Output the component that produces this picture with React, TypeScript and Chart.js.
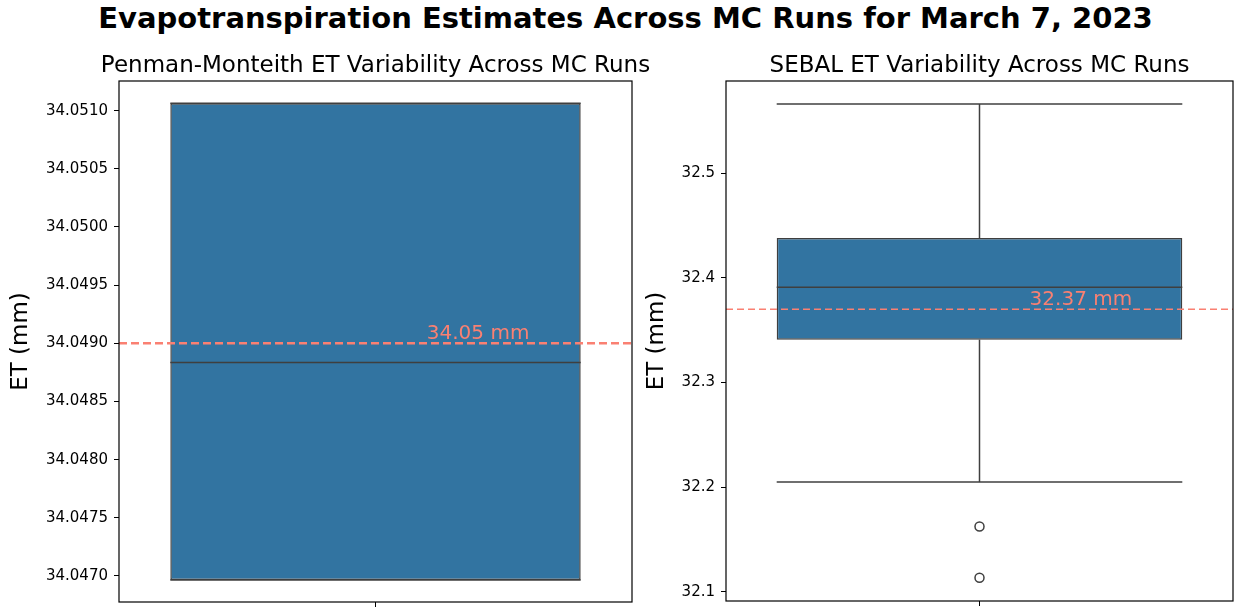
import React, { useEffect, useRef } from 'react';
import { Chart, registerables } from 'chart.js';

Chart.register(...registerables);

// ---------- data ----------
const SUPTITLE = 'Evapotranspiration Estimates Across MC Runs for March 7, 2023';
const Y_LABEL = 'ET (mm)';

const pmTitle = 'Penman-Monteith ET Variability Across MC Runs';
// [whisker low, Q1, median, Q3, whisker high]
const pmStats = [34.046966, 34.046966, 34.048834, 34.051064, 34.051064];
const pmMean = 34.049;
const pmOutliers: number[] = [];
const pmTicks = [34.047, 34.0475, 34.048, 34.0485, 34.049, 34.0495, 34.05, 34.0505, 34.051];
const pmRange = [34.046776, 34.051255];

const sebalTitle = 'SEBAL ET Variability Across MC Runs';
const sebalStats = [32.205, 32.341, 32.391, 32.438, 32.566];
const sebalMean = 32.37;
const sebalOutliers = [32.1625, 32.1136];
const sebalTicks = [32.1, 32.2, 32.3, 32.4, 32.5];
const sebalRange = [32.0914, 32.588];

// ---------- style ----------
const FONT = "'DejaVu Sans', sans-serif";
const BOX_FILL = '#3274a1';
const EDGE = '#3f3f3f';
const MEAN_COLOR = '#fa8072';
const HALF_W = 0.4;

type PanelProps = {
  title: string;
  stats: number[];
  mean: number;
  outliers: number[];
  ticks: number[];
  range: number[];
  decimals: number;
  left: number;
  width: number;
  yAxisWidth: number;
  padRight: number;
  yTitlePad: number;
  meanWidth: number;
  meanDash: number[];
};

function BoxPanel(p: PanelProps) {
  const ref = useRef<HTMLCanvasElement | null>(null);
  useEffect(() => {
    if (!ref.current) return;
    const [lo, q1, med, q3, hi] = p.stats;
    const lineDs = (data: { x: number; y: number }[], order: number) => ({
      type: 'line' as const,
      data,
      borderColor: EDGE,
      borderWidth: 1.5,
      pointRadius: 0,
      fill: false,
      tension: 0,
      order,
    });
    const annot = {
      id: 'annot',
      afterDatasetsDraw(chart: any) {
        const { ctx, scales } = chart;
        ctx.save();
        ctx.fillStyle = MEAN_COLOR;
        ctx.font = `20px ${FONT}`;
        ctx.textAlign = 'center';
        ctx.textBaseline = 'alphabetic';
        ctx.fillText(`${p.mean.toFixed(2)} mm`, scales.x.getPixelForValue(0.2), scales.y.getPixelForValue(p.mean) - 4);
        ctx.restore();
      },
      afterDraw(chart: any) {
        const { ctx, chartArea } = chart;
        const { left, right, top, bottom } = chartArea;
        ctx.save();
        ctx.strokeStyle = '#000';
        ctx.lineWidth = 1.2;
        ctx.strokeRect(left, top, right - left, bottom - top);
        ctx.fillStyle = '#000';
        ctx.font = `23px ${FONT}`;
        ctx.textAlign = 'center';
        ctx.textBaseline = 'alphabetic';
        ctx.fillText(p.title, (left + right) / 2, top - 9);
        ctx.restore();
      },
    };
    const chart = new Chart(ref.current, {
      type: 'bar',
      data: {
        datasets: [
          {
            type: 'bar',
            data: [{ x: 0, y: [q1, q3] }] as any,
            backgroundColor: BOX_FILL,
            borderColor: EDGE,
            borderWidth: 1.5,
            borderSkipped: false,
            barPercentage: 2 * HALF_W,
            categoryPercentage: 1,
            order: 10,
          } as any,
          lineDs([{ x: 0, y: q3 }, { x: 0, y: hi }], 5),
          lineDs([{ x: 0, y: lo }, { x: 0, y: q1 }], 5),
          lineDs([{ x: -HALF_W, y: hi }, { x: HALF_W, y: hi }], 5),
          lineDs([{ x: -HALF_W, y: lo }, { x: HALF_W, y: lo }], 5),
          lineDs([{ x: -HALF_W, y: med }, { x: HALF_W, y: med }], 4),
          {
            type: 'line',
            data: p.outliers.map((v) => ({ x: 0, y: v })),
            showLine: false,
            pointRadius: 4.5,
            pointBorderWidth: 1.5,
            pointBackgroundColor: 'rgba(0,0,0,0)',
            pointBorderColor: EDGE,
            order: 3,
          } as any,
          {
            type: 'line',
            data: [{ x: -0.5, y: p.mean }, { x: 0.5, y: p.mean }],
            borderColor: MEAN_COLOR,
            borderWidth: p.meanWidth,
            borderDash: p.meanDash,
            pointRadius: 0,
            fill: false,
            order: 0,
          } as any,
        ],
      },
      options: {
        animation: false,
        responsive: false,
        maintainAspectRatio: false,
        events: [],
        layout: { padding: { top: 41, right: p.padRight, left: 0, bottom: 0 } },
        plugins: { legend: { display: false }, tooltip: { enabled: false }, title: { display: false } },
        scales: {
          x: {
            type: 'linear',
            min: -0.5,
            max: 0.5,
            bounds: 'data',
            offset: false,
            afterBuildTicks: (s: any) => {
              s.ticks = [{ value: 0 }];
            },
            afterFit: (s: any) => {
              s.height = 5;
              s.paddingLeft = 0;
              s.paddingRight = 0;
            },
            ticks: { callback: () => '', font: { family: FONT, size: 15 } },
            grid: { drawOnChartArea: false, offset: false, tickLength: 5, color: '#000' },
            border: { display: false },
          },
          y: {
            type: 'linear',
            min: p.range[0],
            max: p.range[1],
            bounds: 'data',
            afterBuildTicks: (s: any) => {
              s.ticks = p.ticks.map((v) => ({ value: v }));
            },
            afterFit: (s: any) => {
              s.width = p.yAxisWidth;
              s.paddingTop = 0;
              s.paddingBottom = 0;
            },
            ticks: {
              color: '#000',
              padding: 6,
              autoSkip: false,
              font: { family: FONT, size: 15 },
              callback: (v: any) => Number(v).toFixed(p.decimals),
            },
            grid: { drawOnChartArea: false, tickLength: 5, color: '#000' },
            border: { display: false },
            title: {
              display: true,
              text: Y_LABEL,
              color: '#000',
              font: { family: FONT, size: 23 },
              padding: { top: p.yTitlePad, bottom: 0 },
            },
          },
        },
      } as any,
      plugins: [annot],
    });
    return () => chart.destroy();
  }, []);
  return (
    <canvas
      ref={ref}
      width={p.width}
      height={567}
      style={{ position: 'absolute', left: p.left, top: 40, width: p.width, height: 567 }}
    />
  );
}

export default function App() {
  return (
    <div
      style={{
        position: 'fixed',
        left: 0,
        top: 0,
        width: 1239,
        height: 607,
        background: '#fff',
        overflow: 'hidden',
      }}
    >
      <div
        style={{
          position: 'absolute',
          left: 0,
          top: 3,
          width: 1251,
          textAlign: 'center',
          font: `bold 29px ${FONT}`,
          lineHeight: '30px',
          color: '#000',
          whiteSpace: 'nowrap',
        }}
      >
        {SUPTITLE}
      </div>
      <BoxPanel
        title={pmTitle}
        stats={pmStats}
        mean={pmMean}
        outliers={pmOutliers}
        ticks={pmTicks}
        range={pmRange}
        decimals={4}
        left={0}
        width={690}
        yAxisWidth={119}
        padRight={58}
        yTitlePad={7}
        meanWidth={2.5}
        meanDash={[8, 4]}
      />
      <BoxPanel
        title={sebalTitle}
        stats={sebalStats}
        mean={sebalMean}
        outliers={sebalOutliers}
        ticks={sebalTicks}
        range={sebalRange}
        decimals={1}
        left={640}
        width={599}
        yAxisWidth={86}
        padRight={1}
        yTitlePad={3}
        meanWidth={1.5}
        meanDash={[7, 4]}
      />
    </div>
  );
}
